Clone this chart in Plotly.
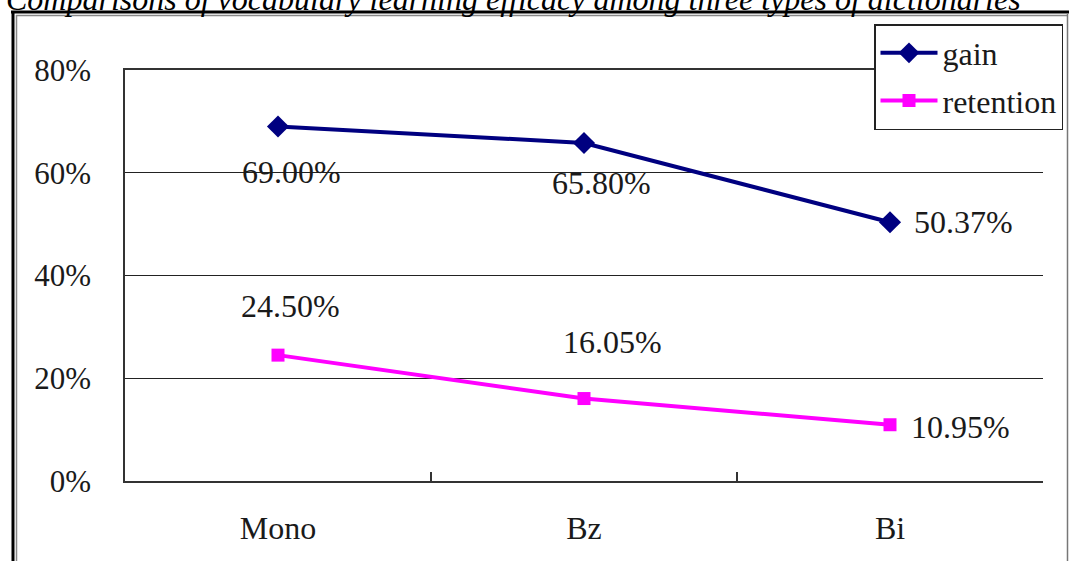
import plotly.graph_objects as go

# Dictionary types and the two efficacy measures (percent)
categories = ["Mono", "Bz", "Bi"]
gain = [69.00, 65.80, 50.37]
retention = [24.50, 16.05, 10.95]
y_ticks = [0, 20, 40, 60, 80]
y_tick_labels = [f"{v}%" for v in y_ticks]

title_text = "Comparisons of vocabulary learning efficacy among three types of dictionaries"

W, H = 1069, 561
ML, MR, MT, MB = 125, 26, 70, 80
PW, PH = W - ML - MR, H - MT - MB

FONT = "Liberation Serif"
TXT = "#1a1a1a"


def px_x(p):
    return (p - ML) / PW


def px_y(p):
    return (H - MB - p) / PH


fig = go.Figure()

fig.add_trace(go.Scatter(
    x=categories, y=gain, name="gain", mode="lines+markers",
    line=dict(color="#000080", width=4),
    marker=dict(symbol="diamond", size=17, color="#000080"),
    legendgroup="g",
))
fig.add_trace(go.Scatter(
    x=categories, y=retention, name="retention", mode="lines+markers",
    line=dict(color="#FF00FF", width=4),
    marker=dict(symbol="square", size=13, color="#FF00FF"),
    legendgroup="r",
))

# value labels placed around each point
gain_offsets = [(13, -45), (17, -40), (73, 0)]
ret_offsets = [(12, 49), (28, 57), (70, -2)]
annotations = []
for cat, v, (dx, dy) in zip(categories, gain, gain_offsets):
    annotations.append(dict(x=cat, y=v, text=f"{v:.2f}%", showarrow=False,
                            xshift=dx, yshift=dy,
                            font=dict(family=FONT, size=32, color=TXT)))
for cat, v, (dx, dy) in zip(categories, retention, ret_offsets):
    annotations.append(dict(x=cat, y=v, text=f"{v:.2f}%", showarrow=False,
                            xshift=dx, yshift=dy,
                            font=dict(family=FONT, size=32, color=TXT)))

# caption running off the top edge
annotations.append(dict(
    x=px_x(4), y=px_y(-1), xref="paper", yref="paper",
    xanchor="left", yanchor="middle", showarrow=False,
    text=f"<i>{title_text}</i>",
    font=dict(family=FONT, size=32, color="#000000"),
))

# outer frame: dark line with a lighter inner line
shapes = [
    dict(type="line", xref="paper", yref="paper",
         x0=px_x(11), x1=px_x(1080), y0=px_y(12), y1=px_y(12),
         line=dict(color="#000000", width=3)),
    dict(type="line", xref="paper", yref="paper",
         x0=px_x(16), x1=px_x(1068), y0=px_y(15.5), y1=px_y(15.5),
         line=dict(color="#888888", width=1.5)),
    dict(type="line", xref="paper", yref="paper",
         x0=px_x(13), x1=px_x(13), y0=px_y(11), y1=px_y(570),
         line=dict(color="#000000", width=3)),
    dict(type="line", xref="paper", yref="paper",
         x0=px_x(16.5), x1=px_x(16.5), y0=px_y(15), y1=px_y(570),
         line=dict(color="#888888", width=1.5)),
    dict(type="line", xref="paper", yref="paper",
         x0=px_x(1067.5), x1=px_x(1067.5), y0=px_y(14), y1=px_y(570),
         line=dict(color="#777777", width=1.5)),
]

fig.update_layout(
    width=W, height=H,
    margin=dict(l=ML, r=MR, t=MT, b=MB, autoexpand=False),
    paper_bgcolor="white", plot_bgcolor="white",
    font=dict(family=FONT, size=30, color=TXT),
    showlegend=True,
    legend=dict(
        x=px_x(874), y=px_y(24), xanchor="left", yanchor="top",
        bgcolor="white", bordercolor="#222222", borderwidth=1.5,
        font=dict(family=FONT, size=32, color=TXT),
        tracegroupgap=3, itemwidth=57,
    ),
    xaxis=dict(
        type="category", range=[-0.5, 2.5],
        showline=True, linecolor="#333333", linewidth=1.5, mirror=True,
        ticks="inside", tickson="boundaries", ticklen=9, tickcolor="#333333",
        tickwidth=1.5,
        showgrid=False, zeroline=False,
        tickfont=dict(family=FONT, size=32, color=TXT),
        ticklabelstandoff=18,
        fixedrange=True,
    ),
    yaxis=dict(
        range=[0, 80], tickmode="array", tickvals=y_ticks, ticktext=y_tick_labels,
        showline=True, linecolor="#333333", linewidth=1.5,
        showgrid=True, gridcolor="#222222", gridwidth=1,
        zeroline=False, ticks="",
        tickfont=dict(family=FONT, size=31, color=TXT),
        ticklabelstandoff=26,
        fixedrange=True,
    ),
    annotations=annotations,
    shapes=shapes,
)

fig.write_html("out.html")
